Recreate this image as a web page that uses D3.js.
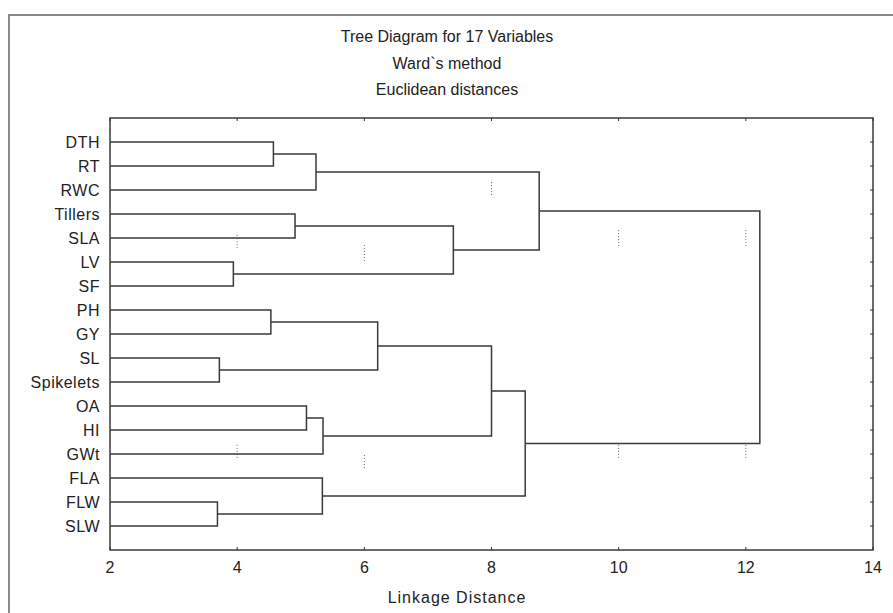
<!DOCTYPE html>
<html>
<head>
<meta charset="utf-8">
<script src="https://cdn.jsdelivr.net/npm/d3@7"></script>
<style>
  body { margin: 0; background: #fff; }
  text { font-family: "Liberation Sans", Arial, sans-serif; fill: #222; }
</style>
</head>
<body>
<div id="chart"></div>
<script>
var width = 893,
    height = 613;

// variables, top to bottom
var leaves = ["DTH", "RT", "RWC", "Tillers", "SLA", "LV", "SF", "PH", "GY",
    "SL", "Spikelets", "OA", "HI", "GWt", "FLA", "FLW", "SLW"];

// joins: [id, left member, right member, linkage distance]
var joins = [
    ["c1", "DTH", "RT", 4.57],
    ["c2", "c1", "RWC", 5.24],
    ["c3", "Tillers", "SLA", 4.91],
    ["c4", "LV", "SF", 3.94],
    ["c5", "c3", "c4", 7.40],
    ["c6", "c2", "c5", 8.75],
    ["c7", "PH", "GY", 4.53],
    ["c8", "SL", "Spikelets", 3.72],
    ["c9", "c7", "c8", 6.21],
    ["c10", "OA", "HI", 5.09],
    ["c11", "c10", "GWt", 5.35],
    ["c12", "c9", "c11", 8.00],
    ["c13", "FLW", "SLW", 3.69],
    ["c14", "FLA", "c13", 5.34],
    ["c15", "c12", "c14", 8.53],
    ["c16", "c6", "c15", 12.22]
];

var xTicks = [2, 4, 6, 8, 10, 12, 14];

var titles = ["Tree Diagram for 17 Variables", "Ward`s method", "Euclidean distances"];

// faint dotted grid remnants: [distance, from row, to row]
var gridBits = [
    [4, 3.88, 4.42], [4, 12.62, 13.17],
    [6, 4.29, 5.04], [6, 13.04, 13.58],
    [8, 1.67, 2.29],
    [10, 3.67, 4.42], [10, 12.62, 13.17],
    [12, 3.67, 4.42], [12, 12.62, 13.17]
];

var margin = {left: 110, right: 20, top: 118, bottom: 63};

var svg = d3.select("#chart").append("svg")
    .attr("width", width)
    .attr("height", height);

// outer frame
svg.append("rect")
    .attr("x", 9)
    .attr("y", 15)
    .attr("width", width)
    .attr("height", height)
    .attr("fill", "none")
    .attr("stroke", "#8a8a8a")
    .attr("stroke-width", 2);

var x = d3.scaleLinear()
    .domain([2, 14])
    .range([margin.left, width - margin.right]);

var y = d3.scalePoint()
    .domain(leaves)
    .range([margin.top, height - margin.bottom])
    .padding(1);

var rowY = d3.scaleLinear()
    .domain([0, 1])
    .range([y(leaves[0]), y(leaves[1])]);

var titleX = 447;
svg.selectAll(".title")
    .data(titles)
    .enter()
    .append("text")
    .attr("class", "title")
    .attr("x", titleX)
    .attr("y", function(d, i) { return 42 + i * 26.5; })
    .attr("text-anchor", "middle")
    .style("font-size", "16px")
    .text(function(d) { return d; });

var g = svg.append("g");

// grid remnants
g.selectAll(".gridbit")
    .data(gridBits)
    .enter()
    .append("line")
    .attr("x1", function(d) { return x(d[0]); })
    .attr("x2", function(d) { return x(d[0]); })
    .attr("y1", function(d) { return rowY(d[1]); })
    .attr("y2", function(d) { return rowY(d[2]); })
    .attr("stroke", "#666")
    .attr("stroke-width", 1)
    .attr("stroke-dasharray", "1,2");

// build node positions
var pos = {};
leaves.forEach(function(name) {
    pos[name] = {h: 2, y: y(name)};
});
joins.forEach(function(j) {
    var a = pos[j[1]], b = pos[j[2]];
    pos[j[0]] = {h: j[3], y: (a.y + b.y) / 2};
});

g.selectAll(".link")
    .data(joins)
    .enter()
    .append("path")
    .attr("class", "link")
    .attr("d", function(j) {
        var a = pos[j[1]], b = pos[j[2]], hx = x(j[3]);
        return "M" + x(a.h) + "," + a.y + "H" + hx + "V" + b.y + "H" + x(b.h);
    })
    .attr("fill", "none")
    .attr("stroke", "#3a3a3a")
    .attr("stroke-width", 1.5);

// plot box
var x0 = x(2), x1 = x(14), y0 = margin.top, y1 = height - margin.bottom;
g.append("rect")
    .attr("x", x0)
    .attr("y", y0)
    .attr("width", x1 - x0)
    .attr("height", y1 - y0)
    .attr("fill", "none")
    .attr("stroke", "#3a3a3a")
    .attr("stroke-width", 1.5);

// inward ticks: top, bottom, right
g.selectAll(".ttick")
    .data(xTicks)
    .enter()
    .append("line")
    .attr("x1", function(d) { return x(d); })
    .attr("x2", function(d) { return x(d); })
    .attr("y1", y0)
    .attr("y2", y0 + 3)
    .attr("stroke", "#333");

g.selectAll(".btick")
    .data(xTicks)
    .enter()
    .append("line")
    .attr("x1", function(d) { return x(d); })
    .attr("x2", function(d) { return x(d); })
    .attr("y1", y1)
    .attr("y2", y1 - 3)
    .attr("stroke", "#333");

g.selectAll(".rtick")
    .data(leaves)
    .enter()
    .append("line")
    .attr("x1", x1)
    .attr("x2", x1 - 3)
    .attr("y1", function(d) { return y(d); })
    .attr("y2", function(d) { return y(d); })
    .attr("stroke", "#333");

// tick labels
svg.selectAll(".xlab")
    .data(xTicks)
    .enter()
    .append("text")
    .attr("x", function(d) { return x(d); })
    .attr("y", y1 + 23)
    .attr("text-anchor", "middle")
    .style("font-size", "16px")
    .text(function(d) { return d; });

svg.selectAll(".ylab")
    .data(leaves)
    .enter()
    .append("text")
    .attr("x", x0 - 10)
    .attr("y", function(d) { return y(d); })
    .attr("dy", "0.36em")
    .attr("text-anchor", "end")
    .style("font-size", "16px")
    .style("letter-spacing", "0.5px")
    .text(function(d) { return d; });

svg.append("text")
    .attr("x", 457)
    .attr("y", 603)
    .attr("text-anchor", "middle")
    .style("font-size", "16px")
    .style("letter-spacing", "1px")
    .text("Linkage Distance");
</script>
</body>
</html>
